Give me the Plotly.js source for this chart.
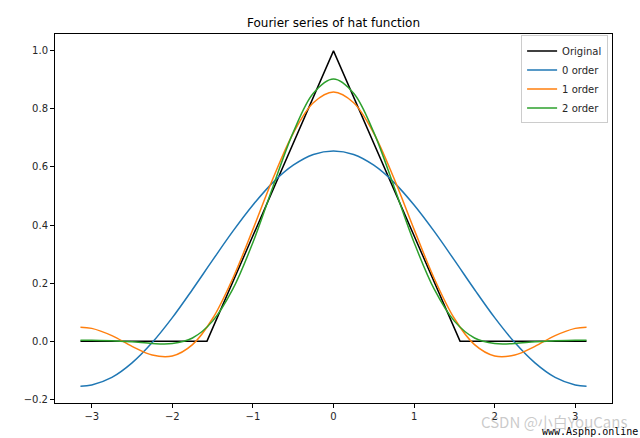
<!DOCTYPE html>
<html><head><meta charset="utf-8">
<script src="https://cdn.plot.ly/plotly-3.0.1.min.js"></script>
<style>html,body{margin:0;padding:0;background:#fff}#chart{width:640px;height:438px}</style>
</head><body><div id="chart"></div>
<script>
// Values
const xHat = [-3.14, -1.57, 0, 1.57, 3.14];
const yHat = [0, 0, 1, 0, 0];
const xs = [-3.14, -3.0, -2.75, -2.5, -2.25, -2.0, -1.75, -1.5, -1.25, -1.0, -0.75, -0.5, -0.25, 0,
            0.25, 0.5, 0.75, 1.0, 1.25, 1.5, 1.75, 2.0, 2.25, 2.5, 2.75, 3.0, 3.14];
const order0 = [-0.155, -0.151, -0.125, -0.075, -0.005, 0.081, 0.178, 0.279, 0.378, 0.469, 0.547, 0.606, 0.643, 0.655,
                0.643, 0.606, 0.547, 0.469, 0.378, 0.279, 0.178, 0.081, -0.005, -0.075, -0.125, -0.151, -0.155];
const order1 = [0.048, 0.044, 0.019, -0.018, -0.048, -0.051, -0.012, 0.078, 0.216, 0.385, 0.561, 0.716, 0.821, 0.858,
                0.821, 0.716, 0.561, 0.385, 0.216, 0.078, -0.012, -0.051, -0.048, -0.018, 0.019, 0.044, 0.048];
const order2 = [0.003, 0.003, 0.001, -0.002, -0.008, -0.008, 0.011, 0.069, 0.179, 0.340, 0.533, 0.719, 0.854, 0.903,
                0.854, 0.719, 0.533, 0.340, 0.179, 0.069, 0.011, -0.008, -0.008, -0.002, 0.001, 0.003, 0.003];
const names = ['Original', '0 order', '1 order', '2 order'];
const colors = ['#000000', '#1f77b4', '#ff7f0e', '#2ca02c'];

const font = {family: 'DejaVu Sans, sans-serif', size: 10, color: '#262626'};
const traces = [
  {x: xHat, y: yHat, name: names[0], mode: 'lines', line: {color: colors[0], width: 1.5}},
  {x: xs, y: order0, name: names[1], mode: 'lines', line: {color: colors[1], width: 1.5, shape: 'spline'}},
  {x: xs, y: order1, name: names[2], mode: 'lines', line: {color: colors[2], width: 1.5, shape: 'spline'}},
  {x: xs, y: order2, name: names[3], mode: 'lines', line: {color: colors[3], width: 1.5, shape: 'spline'}}
];
const axisCommon = {showgrid: false, zeroline: false, showline: true, mirror: true, linecolor: '#000', linewidth: 1,
  ticks: 'outside', ticklen: 4, tickcolor: '#000', tickfont: font};
const layout = {
  width: 640, height: 438,
  margin: {l: 55, r: 28, t: 34, b: 35},
  paper_bgcolor: '#fff', plot_bgcolor: '#fff',
  title: {text: 'Fourier series of hat function', font: {family: 'DejaVu Sans, sans-serif', size: 12, color: '#000'},
          x: 0.5, xref: 'paper', y: 1 - 23/438, yanchor: 'middle'},
  xaxis: Object.assign({range: [-3.456, 3.456], tickvals: [-3, -2, -1, 0, 1, 2, 3],
    ticktext: ['\u22123', '\u22122', '\u22121', '0', '1', '2', '3']}, axisCommon),
  yaxis: Object.assign({range: [-0.213, 1.058], tickvals: [-0.2, 0, 0.2, 0.4, 0.6, 0.8, 1.0],
    ticktext: ['\u22120.2', '0.0', '0.2', '0.4', '0.6', '0.8', '1.0']}, axisCommon),
  showlegend: true,
  legend: {x: 0.993, y: 0.996, xanchor: 'right', yanchor: 'top', bgcolor: 'rgba(255,255,255,0.8)',
    bordercolor: '#cccccc', borderwidth: 1, font: font, tracegroupgap: 0, itemwidth: 30},
  annotations: [
    {text: 'CSDN @小白YouCans', xref: 'paper', yref: 'paper', x: 1.03, y: -0.05, xanchor: 'right', yanchor: 'middle',
     showarrow: false, font: {family: 'Noto Sans CJK SC, sans-serif', size: 15, color: 'rgba(150,150,150,0.5)'}},
    {text: 'www.Asphp.online', xref: 'paper', yref: 'paper', x: 1.05, y: -0.078, xanchor: 'right', yanchor: 'middle',
     showarrow: false, font: {family: 'DejaVu Sans Mono, monospace', size: 10, color: '#000'}}
  ]
};
Plotly.newPlot('chart', traces, layout, {displayModeBar: false, staticPlot: true});
</script></body></html>
